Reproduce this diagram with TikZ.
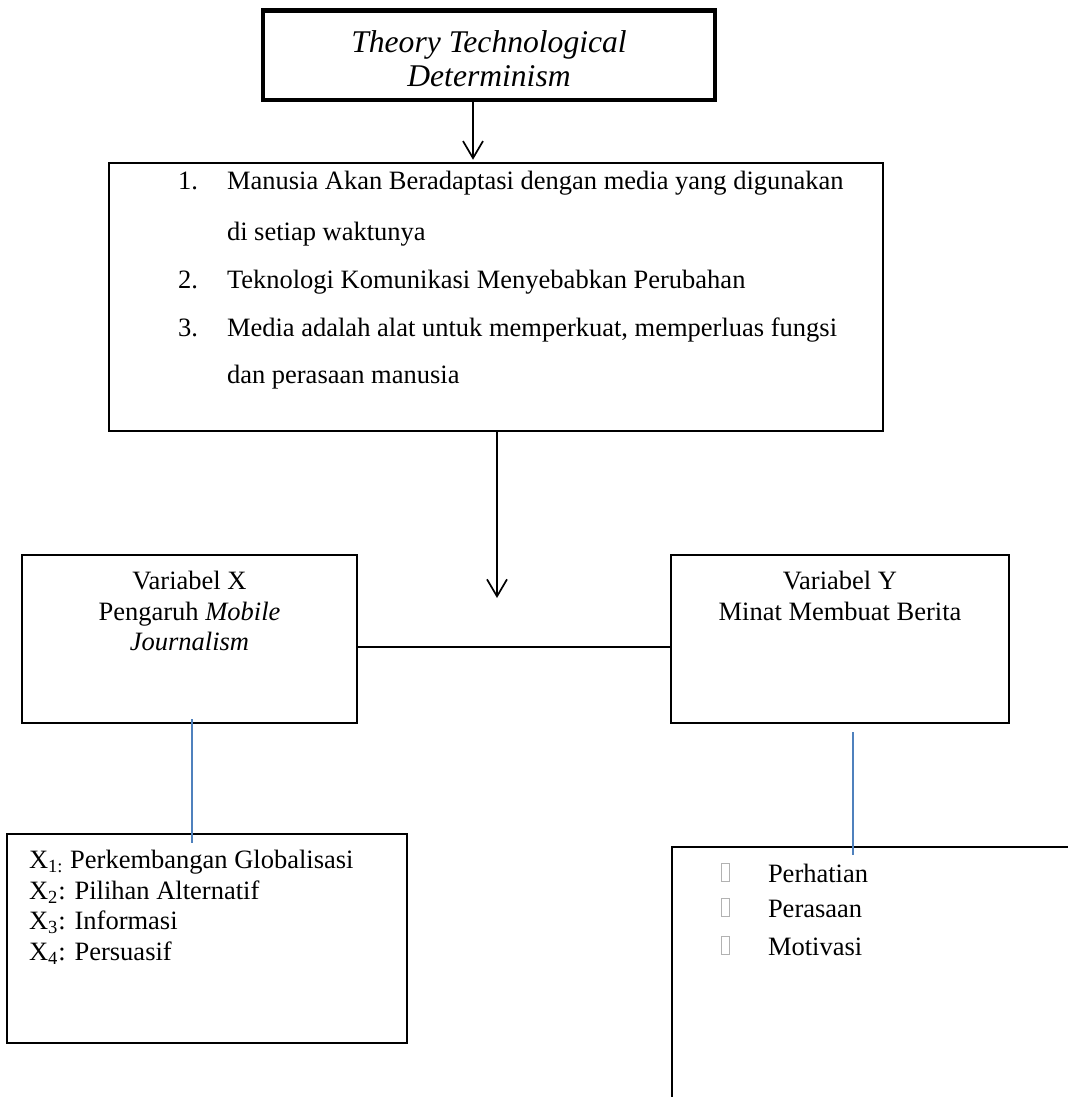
\documentclass[tikz,border=0pt]{standalone}
\usepackage{fontspec}
\setmainfont{Liberation Serif}
\usetikzlibrary{arrows.meta}
\definecolor{wordblue}{RGB}{79,129,189}
\tikzset{
  box/.style={draw=black, line width=0.85pt, rectangle, inner sep=0pt, outer sep=0pt},
  thickbox/.style={box, line width=2.3pt},
  conn/.style={draw=black, line width=0.85pt},
  arr/.style={conn, -{Straight Barb[length=8.5pt,width=10pt]}},
  blueconn/.style={draw=wordblue, line width=1pt},
  txt/.style={inner sep=0pt, outer sep=0pt, font=\fontsize{13.25}{15}\selectfont},
  ttl/.style={inner sep=0pt, outer sep=0pt, font=\fontsize{15.8}{18}\selectfont\itshape},
  tofu/.style={draw=gray!60, line width=0.4pt, rectangle, inner sep=0pt, minimum width=4pt, minimum height=9pt, anchor=south west}
}
\begin{document}
\begin{tikzpicture}[x=0.5pt, y=-0.5pt]
\useasboundingbox (0,0) rectangle (1068,1097);
\clip (0,0) rectangle (1068,1097);

% boxes
\node[thickbox, minimum width=226pt, minimum height=44.75pt] (theory) at (489,55.25) {};
\node[box, minimum width=387pt, minimum height=134.25pt] (points) at (496,297) {};
\node[box, minimum width=167.5pt, minimum height=84pt] (varx) at (189.5,639) {};
\node[box, minimum width=169pt, minimum height=84pt] (vary) at (840,639) {};
\node[box, minimum width=200pt, minimum height=104.5pt] (indx) at (207,938.5) {};
\node[box, minimum width=214pt, minimum height=141.5pt] (indy) at (886,988.5) {};

% title text
\node[ttl, anchor=base] (t1) at (489,53) {Theory Technological};
\node[ttl, anchor=base] (t2) at (489,87) {Determinism};

% points text
\node[txt, anchor=base west] (n1) at (178,189) {1.};
\node[txt, anchor=base west] (p1a) at (227,189) {Manusia Akan Beradaptasi dengan media yang digunakan};
\node[txt, anchor=base west] (p1b) at (227,240) {di setiap waktunya};
\node[txt, anchor=base west] (n2) at (178,288) {2.};
\node[txt, anchor=base west] (p2) at (227,288) {Teknologi Komunikasi Menyebabkan Perubahan};
\node[txt, anchor=base west] (n3) at (178,336) {3.};
\node[txt, anchor=base west] (p3a) at (227,336) {Media adalah alat untuk memperkuat, memperluas fungsi};
\node[txt, anchor=base west] (p3b) at (227,383) {dan perasaan manusia};

% variable X
\node[txt, anchor=base] (vx1) at (189.5,589) {Variabel X};
\node[txt, anchor=base] (vx2) at (189.5,620) {Pengaruh \textit{Mobile}};
\node[txt, anchor=base] (vx3) at (189.5,650) {\textit{Journalism}};

% variable Y
\node[txt, anchor=base] (vy1) at (840,589) {Variabel Y};
\node[txt, anchor=base] (vy2) at (840,620) {Minat Membuat Berita};

% indicators X
\node[txt, anchor=base west] (x1) at (29,868) {X\textsubscript{1:} Perkembangan Globalisasi};
\node[txt, anchor=base west] (x2) at (29,899) {X\textsubscript{2}: Pilihan Alternatif};
\node[txt, anchor=base west] (x3) at (29,929) {X\textsubscript{3}: Informasi};
\node[txt, anchor=base west] (x4) at (29,960) {X\textsubscript{4}: Persuasif};

% indicators Y
\node[tofu] (b1) at (721,882) {};
\node[tofu] (b2) at (721,917) {};
\node[tofu] (b3) at (721,955) {};
\node[txt, anchor=base west] (y1) at (768,882) {Perhatian};
\node[txt, anchor=base west] (y2) at (768,917) {Perasaan};
\node[txt, anchor=base west] (y3) at (768,955) {Motivasi};

% connector helpers
\coordinate (c1) at (473,0);
\coordinate (c2) at (497,0);
\coordinate (c2end) at (497,598);
\coordinate (hl) at (0,647);
\coordinate (bl) at (192,0);
\coordinate (br) at (853,0);

% connectors
\draw[arr] (c1 |- theory.south) -- ([yshift=1.5pt]c1 |- points.north);
\draw[arr] (c2 |- points.south) -- (c2end);
\draw[conn] (varx.east |- hl) -- (vary.west |- hl);
\draw[blueconn] ([yshift=2pt]bl |- varx.south) -- ([yshift=-4.5pt]bl |- indx.north);
\draw[blueconn] ([yshift=-4.5pt]br |- vary.south) -- ([yshift=-4pt]br |- indy.north);
\end{tikzpicture}
\end{document}
